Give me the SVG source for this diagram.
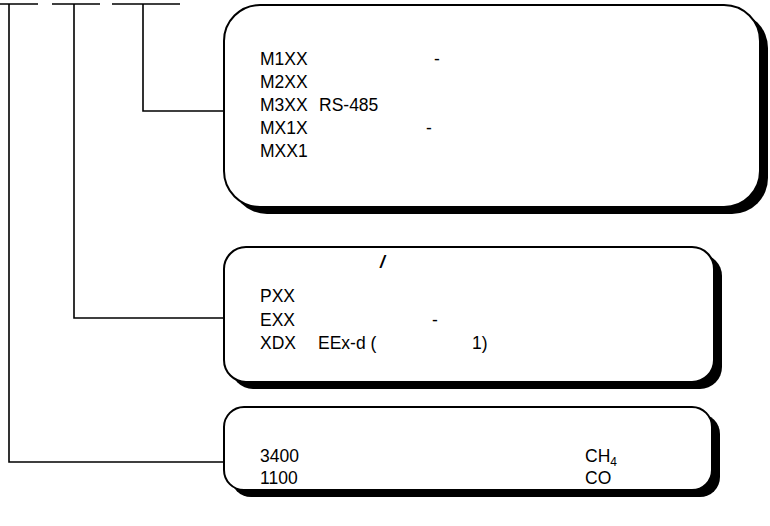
<svg xmlns="http://www.w3.org/2000/svg" width="770" height="526" viewBox="0 0 770 526">
<style>
.box{fill:#fff;stroke:#000;stroke-width:2}
.sh{fill:#000}
.ln{stroke:#000;stroke-width:1.6;fill:none}
text{font-family:"Liberation Sans",Arial,sans-serif;font-size:17.5px;fill:#000}
</style>
<rect width="770" height="526" fill="#fff"/>
<g id="connectors">
<path class="ln" d="M0 4H38M52 4H100M112 4H180"/>
<path class="ln" d="M9 4V462H224"/>
<path class="ln" d="M74 4V318H224"/>
<path class="ln" d="M143 4V111H224"/>
</g>
<g id="node1">
<rect class="sh" x="231" y="12" width="537" height="202" rx="36"/>
<rect class="box" x="224" y="5" width="536" height="202" rx="36"/>
<text x="260" y="65">M1XX</text>
<text x="434" y="65">-</text>
<text x="260" y="88">M2XX</text>
<text x="260" y="111">M3XX</text>
<text x="319" y="111">RS-485</text>
<text x="260" y="134">MX1X</text>
<text x="426" y="134">-</text>
<text x="260" y="157">MXX1</text>
</g>
<g id="node2">
<rect class="sh" x="231" y="254" width="491" height="135" rx="22"/>
<rect class="box" x="224" y="247" width="490" height="135" rx="22"/>
<text x="380" y="268" font-style="italic" font-weight="bold" font-size="19">/</text>
<text x="260" y="302">PXX</text>
<text x="260" y="326">EXX</text>
<text x="432" y="326">-</text>
<text x="260" y="349">XDX</text>
<text x="318" y="349">EEx-d (</text>
<text x="472" y="349">1)</text>
</g>
<g id="node3">
<rect class="sh" x="231" y="414" width="489" height="83" rx="20"/>
<rect class="box" x="224" y="407" width="488" height="83" rx="20"/>
<text x="260" y="462">3400</text>
<text x="585" y="462">CH<tspan font-size="12" dy="4">4</tspan></text>
<text x="260" y="484">1100</text>
<text x="585" y="484">CO</text>
</g>
</svg>
